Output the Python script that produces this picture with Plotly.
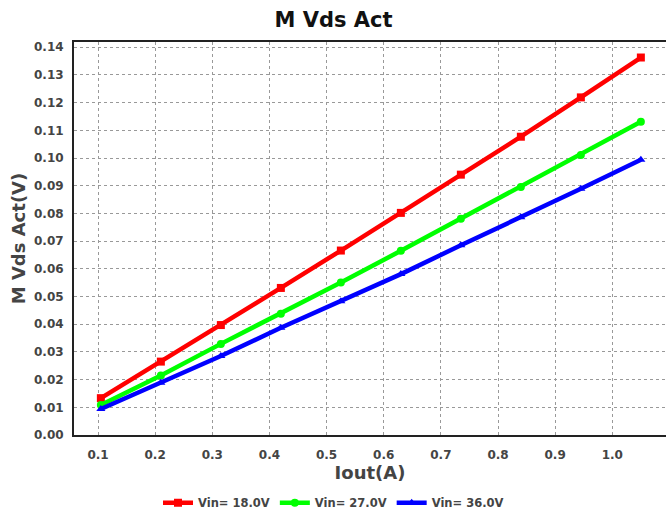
import plotly.graph_objects as go

iout = [0.105, 0.21, 0.315, 0.42, 0.525, 0.63, 0.735, 0.84, 0.945, 1.05]
vin18 = [0.0133, 0.0265, 0.0397, 0.0531, 0.0666, 0.0802, 0.0940, 0.1077, 0.1219, 0.1363]
vin27 = [0.0108, 0.0215, 0.0329, 0.0438, 0.0551, 0.0665, 0.0781, 0.0895, 0.1011, 0.1131]
vin36 = [0.0094, 0.0189, 0.0285, 0.0387, 0.0483, 0.0581, 0.0685, 0.0786, 0.0889, 0.0994]
names = ["Vin= 18.0V", "Vin= 27.0V", "Vin= 36.0V"]
colors = ["#ff0000", "#00ff00", "#0000ff"]
symbols = ["square", "circle", "triangle-up"]

font = "DejaVu Sans, Verdana, sans-serif"
fig = go.Figure()
for ys, n, c, s in zip([vin18, vin27, vin36], names, colors, symbols):
    fig.add_trace(go.Scatter(x=iout, y=ys, name=n, mode="lines+markers",
                             line=dict(color=c, width=4.5),
                             marker=dict(color=c, symbol=s, size=8)))

fig.update_layout(
    width=667, height=510,
    margin=dict(l=74, r=1, t=42, b=75),
    plot_bgcolor="white", paper_bgcolor="white",
    title=dict(text="<b>M Vds Act</b>", x=0.5, xref="container", xanchor="center",
               y=0.962, yref="container", yanchor="middle",
               font=dict(family=font, size=21, color="#111111")),
    font=dict(family=font, color="#444444"),
    legend=dict(orientation="h", x=0.5, xref="container", xanchor="center",
                y=0.014, yref="container", yanchor="middle",
                font=dict(family=font, size=11.5, color="#444444", weight="bold"),
                itemwidth=30, tracegroupgap=0),
    showlegend=True,
)
fig.update_xaxes(range=[0.058, 1.094], tickvals=[0.1, 0.2, 0.3, 0.4, 0.5, 0.6, 0.7, 0.8, 0.9, 1.0],
                 tickformat=".1f", showgrid=True, gridcolor="#999999", griddash="dot", gridwidth=1,
                 showline=True, linecolor="#222222", linewidth=2, mirror=True, zeroline=False,
                 ticks="", ticklabelstandoff=8,
                 tickfont=dict(family=font, size=12, color="#444444", weight="bold"),
                 title=dict(text="<b>Iout(A)</b>", font=dict(family=font, size=18, color="#444444"), standoff=3))
fig.update_yaxes(range=[0, 0.1419], dtick=0.01, tick0=0, tickformat=".2f",
                 showgrid=True, gridcolor="#999999", griddash="dot", gridwidth=1,
                 showline=True, linecolor="#222222", linewidth=2, zeroline=False,
                 ticks="", ticklabelstandoff=6,
                 tickfont=dict(family=font, size=12, color="#444444", weight="bold"),
                 title=dict(text="<b>M Vds Act(V)</b>", font=dict(family=font, size=18, color="#444444"), standoff=4))
fig.write_html("out.html")
